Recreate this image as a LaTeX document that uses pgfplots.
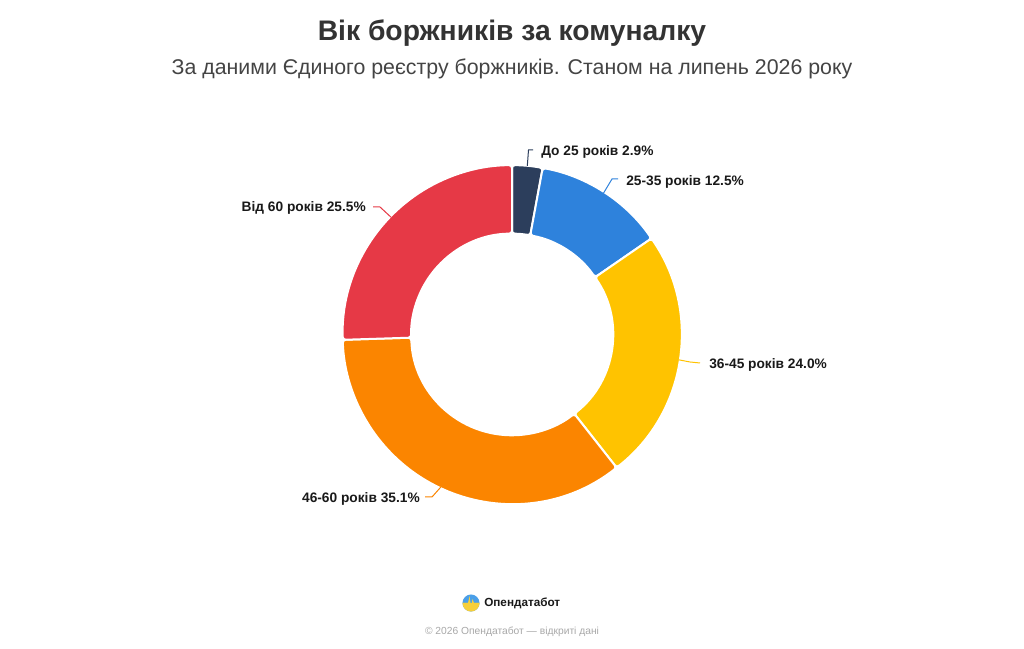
\documentclass[border=0pt]{standalone}
\usepackage{pgfplots}
\pgfplotsset{compat=1.18}
\usepackage{pgfplotstable}
\usepackage{fontspec}
\setmainfont{Liberation Sans}
\definecolor{cNavy}{HTML}{2C3E5C}
\definecolor{cBlue}{HTML}{2E82DC}
\definecolor{cYellow}{HTML}{FFC300}
\definecolor{cOrange}{HTML}{FB8500}
\definecolor{cRed}{HTML}{E63946}
\definecolor{cTitle}{HTML}{333333}
\definecolor{cSub}{HTML}{444444}
\definecolor{cFoot}{HTML}{A8A8A8}
\definecolor{cLogoB}{HTML}{4A9FE8}
\definecolor{cLogoY}{HTML}{F6CF3A}

\pgfplotstableread{
idx value
0 2.9
1 12.5
2 24.0
3 35.1
4 25.5
}\slices

\newcommand\Ro{127pt}
\newcommand\Ri{75.6pt}
\newcommand\slice[3]{%
  \fill[#1, draw=white, line width=1.5pt, rounded corners=2.2pt]
    ([shift={(#2:\Ro)}]C) arc[start angle=#2, end angle=#3, radius=\Ro]
    -- ([shift={(#3:\Ri)}]C) arc[start angle=#3, end angle=#2, radius=\Ri] -- cycle;}
\newcommand\lblfont{\bfseries\fontsize{10.3pt}{12pt}\selectfont}

\begin{document}
\begin{tikzpicture}
\pgfplotstablegetelem{0}{value}\of\slices \pgfmathsetmacro\aA{90-3.6*\pgfplotsretval}
\pgfplotstablegetelem{1}{value}\of\slices \pgfmathsetmacro\aB{\aA-3.6*\pgfplotsretval}
\pgfplotstablegetelem{2}{value}\of\slices \pgfmathsetmacro\aC{\aB-3.6*\pgfplotsretval}
\pgfplotstablegetelem{3}{value}\of\slices \pgfmathsetmacro\aD{\aC-3.6*\pgfplotsretval}
\pgfplotstablegetelem{4}{value}\of\slices \pgfmathsetmacro\aE{\aD-3.6*\pgfplotsretval}
\begin{axis}[
  width=768pt, height=486.75pt, scale only axis,
  xmin=0, xmax=1024, ymin=0, ymax=649,
  hide axis, clip=false,
]
\fill[white] (axis cs:0,0) rectangle (axis cs:1024,649);
\coordinate (C) at (axis cs:512,314.5);
\slice{cNavy}{90}{\aA}
\slice{cBlue}{\aA}{\aB}
\slice{cYellow}{\aB}{\aC}
\slice{cOrange}{\aC}{\aD}
\slice{cRed}{\aD}{\aE}

% connectors
\draw[cNavy, line width=0.75pt] (axis cs:527.3,483) -- (axis cs:528.5,499) -- (axis cs:533,499);
\draw[cBlue, line width=0.75pt] (axis cs:603.6,456) -- (axis cs:612,470) -- (axis cs:618,470);
\draw[cYellow, line width=0.75pt] (axis cs:678.6,289.2) -- (axis cs:690,287) -- (axis cs:700,286);
\draw[cOrange, line width=0.75pt] (axis cs:440.7,161.8) -- (axis cs:432,152) -- (axis cs:425,152);
\draw[cRed, line width=0.75pt] (axis cs:391,431.8) -- (axis cs:380,442) -- (axis cs:373,442);

% labels
\node[anchor=west, font=\lblfont, text=black!90, inner sep=0pt] at (axis cs:541,497.5) {До 25 років 2.9\%};
\node[anchor=west, font=\lblfont, text=black!90, inner sep=0pt] at (axis cs:626,467.5) {25-35 років 12.5\%};
\node[anchor=west, font=\lblfont, text=black!90, inner sep=0pt] at (axis cs:709,284.5) {36-45 років 24.0\%};
\node[anchor=east, font=\lblfont, text=black!90, inner sep=0pt] at (axis cs:420,150.5) {46-60 років 35.1\%};
\node[anchor=east, font=\lblfont, text=black!90, inner sep=0pt] at (axis cs:366,441) {Від 60 років 25.5\%};

% titles
\node[font=\bfseries\fontsize{21.2pt}{25pt}\selectfont, text=cTitle, inner sep=0pt] at (axis cs:512,615.5) {Вік боржників за комуналку};
\node[font=\fontsize{16pt}{19pt}\selectfont, text=cSub, inner sep=0pt] at (axis cs:512,580) {За даними Єдиного реєстру боржників. Станом на липень 2026 року};

% footer
\fill[cLogoB] (axis cs:471,46) circle[radius=6.4pt];
\fill[cLogoY] ([shift={(180:6.4pt)}]axis cs:471,46) arc[start angle=180, end angle=360, radius=6.4pt] -- cycle;
\fill[cLogoY] (axis cs:463,46) -- (axis cs:468,46) -- (axis cs:469.5,53) -- (axis cs:471,42) -- (axis cs:472.5,50) -- (axis cs:474,46) -- (axis cs:479,46) -- (axis cs:479,44) -- (axis cs:463,44) -- cycle;
\node[anchor=west, font=\bfseries\fontsize{8.8pt}{11pt}\selectfont, text=black!90, inner sep=0pt] at (axis cs:484,46) {Опендатабот};
\node[font=\fontsize{7.7pt}{9pt}\selectfont, text=cFoot, inner sep=0pt] at (axis cs:512,17) {© 2026 Опендатабот — відкриті дані};
\end{axis}
\end{tikzpicture}
\end{document}
